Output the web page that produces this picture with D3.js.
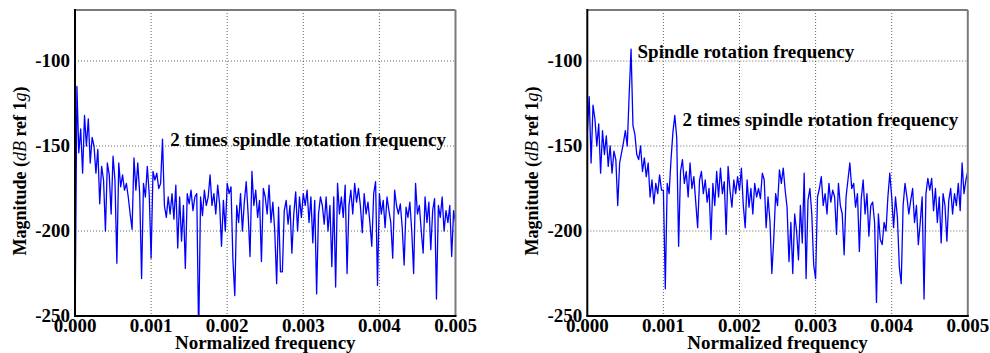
<!DOCTYPE html>
<html>
<head>
<meta charset="utf-8">
<title>Spindle vibration spectra</title>
<script src="https://cdnjs.cloudflare.com/ajax/libs/d3/7.8.5/d3.min.js"></script>
<style>
  * { margin: 0; padding: 0; }
  body { background: #fff; }
  svg text { font-family: "Liberation Serif", serif; font-weight: bold; font-size: 19px; fill: #000; }
</style>
</head>
<body>
<script>
// sample spacing of both spectra (normalized frequency)
var freqStep = 0.000025;

// left spectrum, dB ref 1g
var leftMag = [
  -262, -115, -154, -140, -166, -132, -150, -134, -160, -145,
  -150, -166, -152, -184, -162, -170, -200, -160, -167, -190,
  -156, -170, -219, -160, -174, -167, -176, -172, -180, -190,
  -199, -157, -176, -160, -178, -228, -172, -180, -162, -178,
  -216, -165, -170, -166, -175, -172, -146, -185, -192, -180,
  -190, -178, -193, -173, -210, -180, -206, -185, -222, -178,
  -184, -176, -188, -180, -178, -262, -180, -191, -176, -185,
  -180, -167, -185, -178, -190, -173, -184, -209, -182, -200,
  -172, -178, -174, -217, -238, -185, -195, -178, -200, -183,
  -171, -190, -215, -165, -185, -176, -192, -182, -218, -175,
  -180, -190, -173, -195, -183, -200, -231, -186, -224, -224,
  -188, -182, -196, -185, -213, -190, -177, -200, -180, -192,
  -178, -185, -176, -195, -180, -207, -182, -237, -190, -180,
  -185, -196, -180, -200, -185, -221, -180, -233, -172, -190,
  -180, -192, -173, -225, -185, -176, -190, -172, -183, -175,
  -185, -201, -178, -190, -183, -195, -209, -178, -171, -232,
  -178, -190, -182, -198, -180, -188, -195, -216, -176, -185,
  -190, -184, -198, -220, -186, -192, -183, -200, -225, -172,
  -190, -185, -200, -213, -180, -195, -183, -211, -188, -181,
  -240, -185, -192, -180, -200, -188, -195, -185, -215, -188,
  -195
];

// right spectrum, dB ref 1g
var rightMag = [
  -142, -121, -160, -126, -134, -150, -137, -166, -141, -155,
  -144, -162, -150, -166, -153, -158, -185, -160, -154, -148,
  -141, -150, -120, -93, -138, -143, -155, -158, -150, -165,
  -157, -168, -160, -180, -170, -184, -172, -178, -167, -176,
  -176, -234, -172, -178, -158, -142, -132, -145, -209, -165,
  -158, -172, -165, -180, -160, -175, -168, -183, -198, -170,
  -165, -178, -170, -183, -175, -205, -172, -185, -165, -180,
  -163, -178, -171, -202, -162, -176, -186, -170, -178, -168,
  -176, -163, -185, -198, -170, -186, -175, -190, -172, -180,
  -175, -181, -166, -170, -198, -180, -194, -225, -205, -178,
  -185, -164, -172, -163, -176, -186, -218, -195, -225, -190,
  -200, -217, -185, -207, -166, -228, -182, -175, -190, -220,
  -228, -180, -175, -168, -185, -178, -190, -172, -183, -176,
  -180, -202, -172, -185, -190, -214, -180, -170, -160, -175,
  -172, -186, -178, -212, -181, -170, -190, -178, -203, -185,
  -183, -195, -242, -190, -205, -208, -195, -200, -180, -166,
  -180, -198, -180, -192, -221, -231, -185, -172, -180, -190,
  -182, -175, -195, -185, -208, -195, -180, -240, -178, -169,
  -176, -169, -188, -175, -195, -180, -207, -178, -185, -206,
  -182, -175, -190, -178, -185, -172, -188, -160, -178, -170,
  -165
];

var xTicks = [0, 0.001, 0.002, 0.003, 0.004, 0.005];
var yTicks = [-250, -200, -150, -100];
var leftNotes = [
  { f: 0.00125, m: -150, label: "2 times spindle rotation frequency" }
];
var rightNotes = [
  { f: 0.00066, m: -98, label: "Spindle rotation frequency" },
  { f: 0.00125, m: -138, label: "2 times spindle rotation frequency" }
];

var W = 990, H = 353;
var plotW = 380.5, plotH = 306, plotTop = 10;

var svg = d3.select("body").append("svg")
    .attr("width", W)
    .attr("height", H);

function drawPanel(left, mags, notes, id) {
    var x = d3.scaleLinear().domain([0, 0.005]).range([0, plotW]);
    var y = d3.scaleLinear().domain([-250, -70]).range([plotH, 0]);

    var g = svg.append("g")
        .attr("transform", "translate(" + left + "," + plotTop + ")");

    g.append("clipPath").attr("id", "clip" + id)
      .append("rect").attr("width", plotW).attr("height", plotH);

    // grid
    g.selectAll(".vgrid").data(xTicks.slice(1, -1))
      .enter().append("line")
        .attr("x1", function(d) { return x(d); })
        .attr("x2", function(d) { return x(d); })
        .attr("y1", 0).attr("y2", plotH)
        .attr("stroke", "#555").attr("stroke-width", 0.9)
        .attr("stroke-dasharray", "1,2");
    g.selectAll(".hgrid").data(yTicks.slice(1))
      .enter().append("line")
        .attr("x1", 0).attr("x2", plotW)
        .attr("y1", function(d) { return y(d); })
        .attr("y2", function(d) { return y(d); })
        .attr("stroke", "#555").attr("stroke-width", 0.9)
        .attr("stroke-dasharray", "1,2");

    var line = d3.line()
        .x(function(d, i) { return x(i * freqStep); })
        .y(function(d) { return y(d); });

    g.append("path")
        .datum(mags)
        .attr("clip-path", "url(#clip" + id + ")")
        .attr("fill", "none")
        .attr("stroke", "#0000ff")
        .attr("stroke-width", 1.3)
        .attr("stroke-linejoin", "round")
        .attr("d", line);

    // frame: dark left/bottom, grey top/right
    g.append("line").attr("x1", 0).attr("x2", plotW).attr("y1", 0).attr("y2", 0)
        .attr("stroke", "#7a7a7a").attr("stroke-width", 2);
    g.append("line").attr("x1", plotW).attr("x2", plotW).attr("y1", 0).attr("y2", plotH)
        .attr("stroke", "#7a7a7a").attr("stroke-width", 2);
    g.append("line").attr("x1", 0).attr("x2", 0).attr("y1", -1).attr("y2", plotH)
        .attr("stroke", "#000").attr("stroke-width", 2);
    g.append("line").attr("x1", -1).attr("x2", plotW + 1).attr("y1", plotH).attr("y2", plotH)
        .attr("stroke", "#000").attr("stroke-width", 2);

    // tick labels
    g.selectAll(".xt").data(xTicks)
      .enter().append("text")
        .attr("x", function(d) { return x(d); })
        .attr("y", plotH + 16)
        .attr("text-anchor", "middle")
        .text(function(d) { return d.toFixed(3); });
    g.selectAll(".yt").data(yTicks)
      .enter().append("text")
        .attr("x", -5)
        .attr("y", function(d) { return y(d); })
        .attr("dy", "0.33em")
        .attr("text-anchor", "end")
        .text(function(d) { return String(d); });

    // axis titles
    g.append("text")
        .attr("x", plotW / 2)
        .attr("y", plotH + 33)
        .attr("text-anchor", "middle")
        .text("Normalized frequency");

    var yl = g.append("text")
        .attr("transform", "translate(-49," + (plotH / 2 + 8) + ") rotate(-90)")
        .attr("text-anchor", "middle")
        .style("font-size", "18px");
    yl.append("tspan").text("Magnitude (");
    yl.append("tspan").attr("font-style", "italic").attr("font-weight", "normal").text("dB");
    yl.append("tspan").text(" ref 1");
    yl.append("tspan").attr("font-style", "italic").attr("font-weight", "normal").text("g");
    yl.append("tspan").text(")");

    // annotations
    g.selectAll(".note").data(notes)
      .enter().append("text")
        .attr("x", function(d) { return x(d.f); })
        .attr("y", function(d) { return y(d.m); })
        .text(function(d) { return d.label; });
}

drawPanel(75, leftMag, leftNotes, "L");
drawPanel(587.3, rightMag, rightNotes, "R");
</script>
</body>
</html>
